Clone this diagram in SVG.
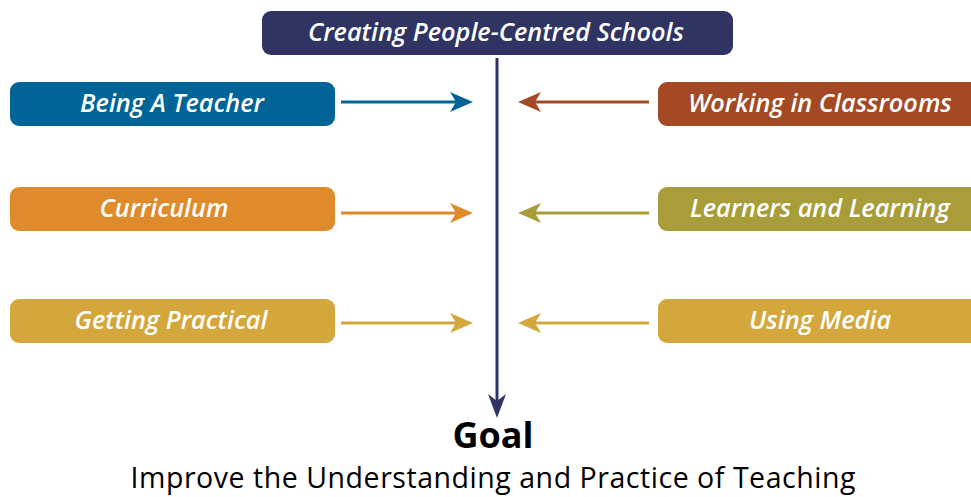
<svg xmlns="http://www.w3.org/2000/svg" width="971" height="497" viewBox="0 0 971 497">
<style>
.lbl{font-family:"Open Sans","Liberation Sans",sans-serif;font-style:italic;font-weight:600;font-size:25.3px;fill:#ffffff;text-anchor:middle}
.goal{font-family:"Open Sans","Liberation Sans",sans-serif;font-weight:700;font-size:36px;fill:#000;text-anchor:middle}
.sub{font-family:"Open Sans","Liberation Sans",sans-serif;font-weight:400;font-size:28.5px;fill:#000;text-anchor:middle}
</style>
<rect width="971" height="497" fill="#ffffff"/>
<g id="connectors">
<line x1="497" y1="58" x2="497" y2="402" stroke="#2f3462" stroke-width="3"/>
<path d="M497,418 L488,394 L497,401 L506,394 Z" fill="#2f3462"/>
<g stroke-width="3">
<line x1="341" y1="102" x2="460" y2="102" stroke="#006496"/>
<path d="M473,102 L450,92 L456,102 L450,112 Z" fill="#006496"/>
<line x1="649" y1="102" x2="530" y2="102" stroke="#a34a24"/>
<path d="M518,102 L541,92 L535,102 L541,112 Z" fill="#a34a24"/>
<line x1="341" y1="213" x2="460" y2="213" stroke="#df8b2c"/>
<path d="M473,213 L450,203 L456,213 L450,223 Z" fill="#df8b2c"/>
<line x1="649" y1="213" x2="530" y2="213" stroke="#a89d38"/>
<path d="M518,213 L541,203 L535,213 L541,223 Z" fill="#a89d38"/>
<line x1="341" y1="323" x2="460" y2="323" stroke="#d4a73c"/>
<path d="M473,323 L450,313 L456,323 L450,333 Z" fill="#d4a73c"/>
<line x1="649" y1="323" x2="530" y2="323" stroke="#d4a73c"/>
<path d="M518,323 L541,313 L535,323 L541,333 Z" fill="#d4a73c"/>
</g>
</g>
<g id="top">
<rect x="262" y="11" width="471" height="44" rx="9" fill="#2f3462"/>
<text class="lbl" x="496" y="41">Creating People-Centred Schools</text>
</g>
<g id="being-a-teacher">
<rect x="10" y="82" width="325" height="44" rx="9" fill="#006496"/>
<text class="lbl" x="172" y="112">Being A Teacher</text>
</g>
<g id="working-in-classrooms">
<rect x="658" y="82" width="330" height="44" rx="9" fill="#a34a24"/>
<text class="lbl" x="820" y="112">Working in Classrooms</text>
</g>
<g id="curriculum">
<rect x="10" y="187" width="325" height="44" rx="9" fill="#df8b2c"/>
<text class="lbl" x="164" y="217">Curriculum</text>
</g>
<g id="learners-and-learning">
<rect x="658" y="187" width="330" height="44" rx="9" fill="#a89d38"/>
<text class="lbl" x="820" y="217">Learners and Learning</text>
</g>
<g id="getting-practical">
<rect x="10" y="299" width="325" height="44" rx="9" fill="#d4a73c"/>
<text class="lbl" x="171" y="329">Getting Practical</text>
</g>
<g id="using-media">
<rect x="658" y="299" width="330" height="44" rx="9" fill="#d4a73c"/>
<text class="lbl" x="820" y="329">Using Media</text>
</g>
<g id="goal">
<text class="goal" x="493" y="448">Goal</text>
<text class="sub" x="493" y="488" textLength="725">Improve the Understanding and Practice of Teaching</text>
</g>
</svg>
